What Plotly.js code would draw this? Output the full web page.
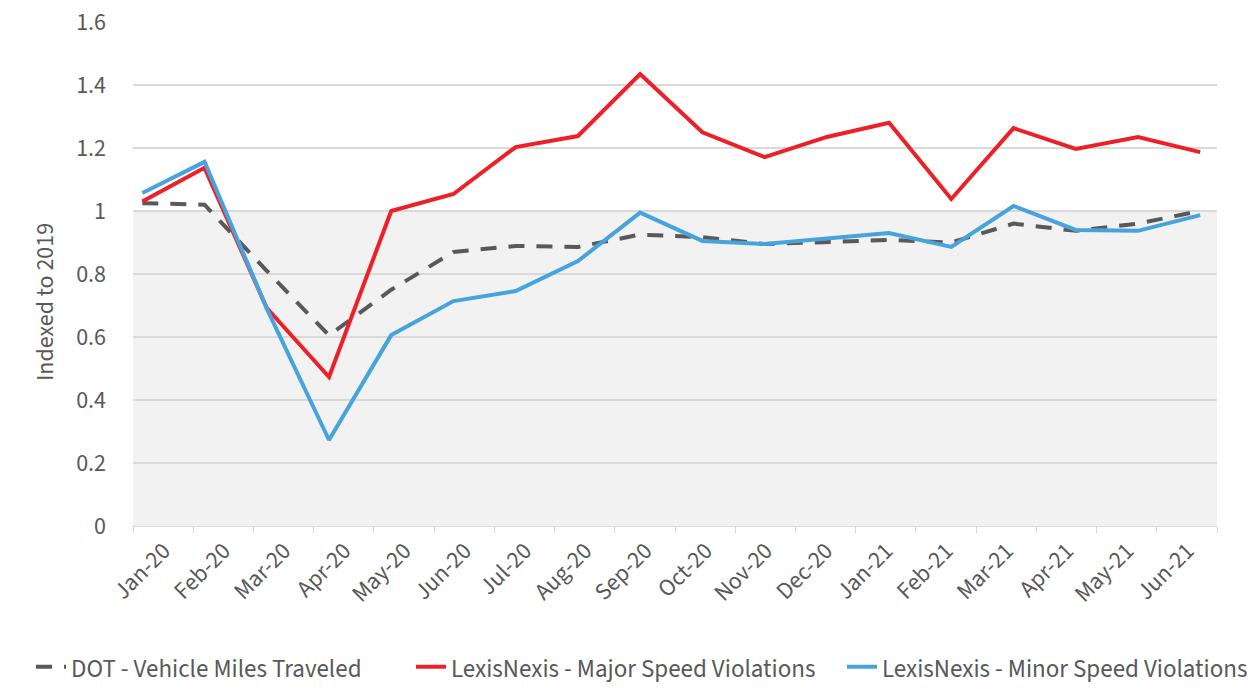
<!DOCTYPE html>
<html>
<head>
<meta charset="utf-8">
<script src="https://cdn.plot.ly/plotly-3.0.1.min.js"></script>
<style>html,body{margin:0;padding:0;background:#fff;}#chart{width:1257px;height:690px;}</style>
</head>
<body>
<div id="chart"></div>
<script>
const months = ["Jan-20","Feb-20","Mar-20","Apr-20","May-20","Jun-20","Jul-20","Aug-20","Sep-20","Oct-20","Nov-20","Dec-20","Jan-21","Feb-21","Mar-21","Apr-21","May-21","Jun-21"];
const dotVMT = [1.025,1.02,0.81,0.605,0.75,0.87,0.889,0.886,0.925,0.917,0.895,0.9,0.908,0.9,0.96,0.937,0.96,1.0];
const majorSpeed = [1.03,1.137,0.692,0.473,1.0,1.054,1.203,1.238,1.435,1.25,1.171,1.235,1.28,1.038,1.263,1.197,1.235,1.187];
const minorSpeed = [1.057,1.156,0.69,0.273,0.606,0.714,0.746,0.841,0.995,0.905,0.895,0.911,0.93,0.886,1.016,0.94,0.937,0.987];
const yTitle = "Indexed to 2019";

const FONT = "'Source Sans Pro', 'Source Sans 3', Lato, 'Liberation Sans', sans-serif";
const GREY = "#595959";

const traces = [
  {x: months, y: months.map(() => null), type: "scatter", mode: "lines", xaxis: "x", yaxis: "y", showlegend: false, hoverinfo: "skip"},
  {x: months, y: dotVMT, name: "DOT - Vehicle Miles Traveled", type: "scatter", mode: "lines", xaxis: "x2", yaxis: "y",
   legend: "legend", line: {color: "#595959", width: 4, dash: "16px,12px"}},
  {x: months, y: majorSpeed, name: "LexisNexis - Major Speed Violations", type: "scatter", mode: "lines", xaxis: "x2", yaxis: "y",
   legend: "legend2", line: {color: "#ee2027", width: 4}},
  {x: months, y: minorSpeed, name: "LexisNexis - Minor Speed Violations", type: "scatter", mode: "lines", xaxis: "x2", yaxis: "y",
   legend: "legend3", line: {color: "#46a3dc", width: 4}}
];

function leg(px) {
  return {orientation: "h", x: px / 1257, xanchor: "left", xref: "container", y: 0, yanchor: "bottom", yref: "container",
          font: {family: FONT, size: 25, color: GREY}, bgcolor: "rgba(0,0,0,0)", borderwidth: 0};
}

const layout = {
  width: 1257, height: 690,
  margin: {l: 133, r: 40, t: 22, b: 164},
  paper_bgcolor: "#ffffff", plot_bgcolor: "rgba(0,0,0,0)",
  font: {family: FONT, size: 24, color: GREY},
  showlegend: true,
  legend: leg(31),
  legend2: leg(411),
  legend3: leg(842),
  xaxis: {type: "category", categoryorder: "array", categoryarray: months, range: [-0.5, 17.5],
          tickson: "boundaries", ticks: "outside", ticklen: 6, tickcolor: "#d9d9d9", tickwidth: 1,
          showline: true, linecolor: "#d9d9d9", linewidth: 1, showgrid: false, zeroline: false,
          tickangle: -45, tickfont: {family: FONT, size: 24, color: GREY}, fixedrange: true},
  xaxis2: {type: "category", categoryorder: "array", categoryarray: months, overlaying: "x", range: [-0.15, 17.27],
           visible: false, showgrid: false, zeroline: false},
  yaxis: {range: [0, 1.6], dtick: 0.2, tick0: 0, showgrid: true, gridcolor: "#d9d9d9", gridwidth: 1.3, zeroline: false,
          showline: false, ticks: "", tickfont: {family: FONT, size: 24, color: GREY}, ticklabelstandoff: 26},
  annotations: [
    {text: yTitle, textangle: -90, xref: "paper", yref: "paper", x: (45 - 133) / 1084, y: (526 - 302) / 504,
     xanchor: "center", yanchor: "middle", showarrow: false, font: {family: FONT, size: 24, color: GREY}}
  ],
  shapes: [
    {type: "rect", xref: "paper", yref: "y", x0: 0, x1: 1, y0: 0, y1: 1, fillcolor: "#f2f2f2", line: {width: 0}, layer: "below"},
    {type: "line", xref: "paper", yref: "y", x0: 0, x1: 1, y0: 1, y1: 1, line: {color: "#8c8c8c", width: 1.5}, layer: "below"}
  ]
};

Plotly.newPlot("chart", traces, layout, {displayModeBar: false, staticPlot: true});
</script>
</body>
</html>
